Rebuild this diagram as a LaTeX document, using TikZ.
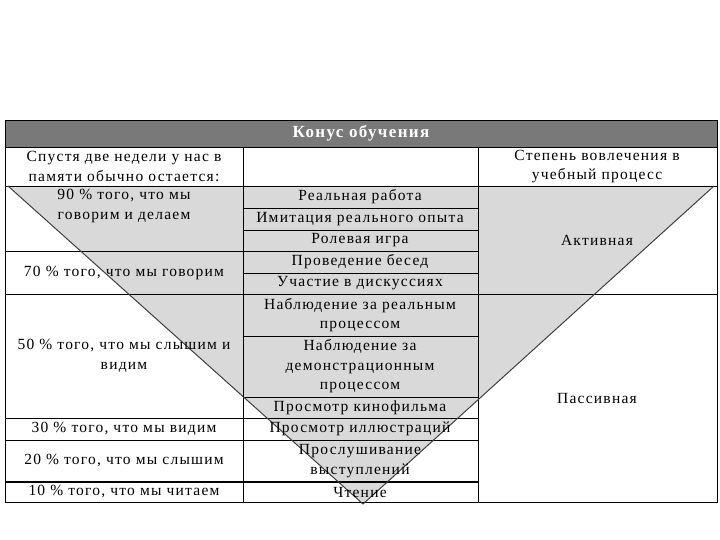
\documentclass[tikz,border=0pt]{standalone}
\usepackage{fontspec}
\setmainfont{Liberation Serif}[LetterSpace=8]
\begin{document}
\begin{tikzpicture}[x=1pt,y=-1pt,
  cell/.style={font=\fontsize{15.5}{19.5}\selectfont,align=center,inner sep=0pt},
  grid/.style={draw=black,line width=0.8pt}]
\useasboundingbox (0,0) rectangle (720,540);
% header
\fill[gray!95!black] (5,120) rectangle (717,147);
\node[cell,text=white,font=\fontsize{17}{19}\selectfont\bfseries] (title) at (361,133.5) {Конус обучения};
% triangle fill
\coordinate (tl) at (8,186); \coordinate (tr) at (714,186); \coordinate (ap) at (363,504);
\fill[gray!30] (tl) -- (tr) -- (ap) -- cycle;
% grid
\draw[grid] (5,120) rectangle (717,502);
\draw[grid] (5,147) -- (717,147);
\draw[grid] (5,186) -- (717,186);
\draw[grid] (243,147) -- (243,502);
\draw[grid] (478,147) -- (478,502);
\foreach \y in {251,294,418,440} \draw[grid] (5,\y) -- (478,\y);
\draw[line width=1.6pt] (5,482) -- (478,482);
\foreach \y in {208,230,273,336,397} \draw[grid] (243,\y) -- (478,\y);
\draw[grid] (478,294) -- (717,294);
% triangle outline
\draw[gray!50!black,line width=1pt] (tl) -- (ap) -- (tr);
% left texts
\node[cell] (l0) at (124,166.5) {Спустя две недели у нас в\\памяти обычно остается:};
\node[cell] (l1) at (124,206) {90 \% того, что мы\\говорим и делаем};
\node[cell] (l2) at (124,272.5) {70 \% того, что мы говорим};
\node[cell] (l3) at (124,356) {50 \% того, что мы слышим и\\видим};
\node[cell] (l4) at (124,429) {30 \% того, что мы видим};
\node[cell] (l5) at (124,461) {20 \% того, что мы слышим};
\node[cell] (l6) at (124,492) {10 \% того, что мы читаем};
% middle texts
\node[cell] (m1) at (360,197) {Реальная работа};
\node[cell] (m2) at (360,219) {Имитация реального опыта};
\node[cell] (m3) at (360,240.5) {Ролевая игра};
\node[cell] (m4) at (360,262) {Проведение бесед};
\node[cell] (m5) at (360,283.5) {Участие в дискуссиях};
\node[cell] (m6) at (360,315) {Наблюдение за реальным\\процессом};
\node[cell] (m7) at (360,366.5) {Наблюдение за\\демонстрационным\\процессом};
\node[cell] (m8) at (360,407.5) {Просмотр кинофильма};
\node[cell] (m9) at (360,429) {Просмотр иллюстраций};
\node[cell] (m10) at (360,461) {Прослушивание\\выступлений};
\node[cell] (m11) at (360,492) {Чтение};
% right texts
\node[cell] (r0) at (597,166.5) {Степень вовлечения в\\учебный процесс};
\node[cell] (r1) at (597,240) {Активная};
\node[cell] (r2) at (597,398) {Пассивная};
\end{tikzpicture}
\end{document}
